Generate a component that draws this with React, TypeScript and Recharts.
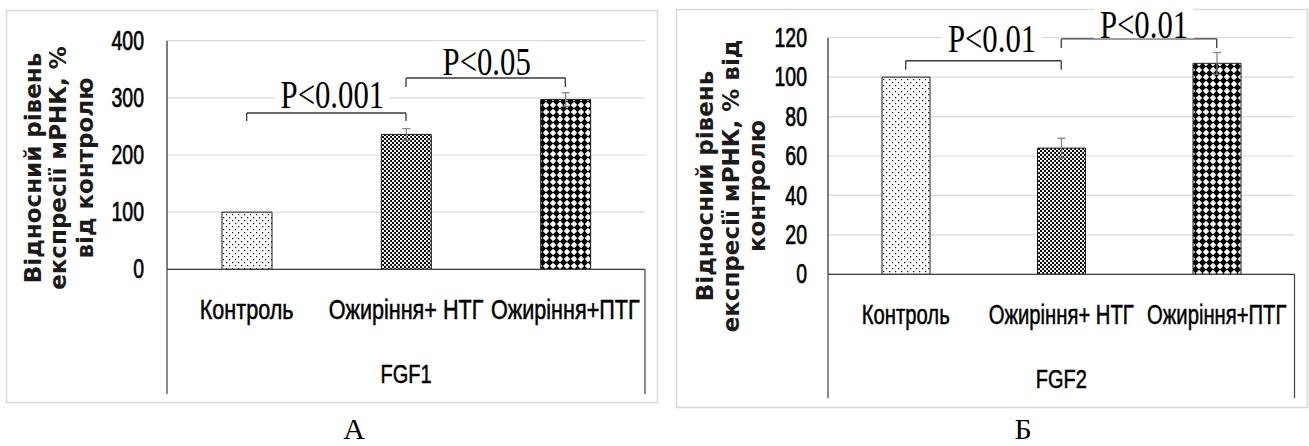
import React from 'react';
import {
  BarChart,
  Bar,
  XAxis,
  YAxis,
  CartesianGrid,
  Cell,
  ErrorBar,
  ReferenceLine,
  ReferenceArea,
} from 'recharts';

// ---------------- data ----------------
const categories = ['Контроль', 'Ожиріння+ НТГ', 'Ожиріння+ПТГ'];

const fgf1Values = [100, 236, 297];
const fgf1Errors = [0, 10, 12];
const fgf1Ticks = [0, 100, 200, 300, 400];
const fgf1Group = 'FGF1';
const fgf1Title = ['Відносний рівень', 'експресії мРНК, %', 'від контролю'];
const fgf1Brackets = [
  { from: 0, to: 1, level: 273.5, drop: 259.5, text: 'P<0.001' },
  { from: 1, to: 2, level: 334.7, drop: 319, text: 'P<0.05' },
];

const fgf2Values = [100, 64, 107];
const fgf2Errors = [0, 5, 5.5];
const fgf2Ticks = [0, 20, 40, 60, 80, 100, 120];
const fgf2Group = 'FGF2';
const fgf2Title = ['Відносний рівень', 'експресії мРНК, % від', 'контролю'];
const fgf2Brackets = [
  { from: 0, to: 1, level: 108.3, drop: 103.7, text: 'P<0.01' },
  { from: 1, to: 2, level: 119.4, drop: 114.8, text: 'P<0.01' },
];

const panelCaptions = ['А', 'Б'];

// ---------------- styles ----------------
const PATTERN_NAMES = ['dots', 'dense', 'diamond'];
const SANS = "'Liberation Sans', Arial, sans-serif";
const SERIF = "'Liberation Serif', 'Times New Roman', serif";
const TITLE_FONT = "'DejaVu Sans', Verdana, sans-serif";

type Bracket = { from: number; to: number; level: number; drop: number; text: string };

interface PanelProps {
  id: string;
  width: number;
  height: number;
  margin: { top: number; right: number; bottom: number; left: number };
  yAxisWidth: number;
  barSize: number;
  values: number[];
  errors: number[];
  ticks: number[];
  group: string;
  title: string[];
  titleXs: number[];
  titleCenterY: number;
  brackets: Bracket[];
  labelOffsets: { dx: number; gap: number }[];
  frameBottom: number;
  tickGap: number;
  catScale: number;
}

const makeValueTick = (gap: number) => (props: any) => {
  const { x, y, payload } = props;
  return (
    <text
      transform={`translate(${x - gap} ${y}) scale(0.72 1)`}
      textAnchor="end"
      dominantBaseline="central"
      fontFamily={SANS}
      fontSize={27}
      fill="#000"
      stroke="#000"
      strokeWidth={0.7}
    >
      {payload.value}
    </text>
  );
};

const makeCatTick = (sx: number) => (props: any) => {
  const { x, y, payload } = props;
  return (
    <text
      transform={`translate(${x} ${y + 41.5}) scale(${sx} 1)`}
      textAnchor="middle"
      fontFamily={SANS}
      fontSize={27}
      fill="#000"
      stroke="#000"
      strokeWidth={0.5}
    >
      {payload.value}
    </text>
  );
};

const makeGroupLabel = (text: string) => (props: any) => {
  const vb = props.viewBox || {};
  const cx = vb.x + vb.width / 2;
  return (
    <text
      transform={`translate(${cx} ${vb.y + 113.7}) scale(0.8 1)`}
      textAnchor="middle"
      fontFamily={SANS}
      fontSize={25}
      fill="#000"
      stroke="#000"
      strokeWidth={0.5}
    >
      {text}
    </text>
  );
};

const makeYTitle = (lines: string[], xs: number[], cy: number) => (props: any) => {
  const vb = props.viewBox || { x: 0 };
  return (
    <g>
      {lines.map((l, i) => (
        <text
          key={i}
          transform={`translate(${vb.x + xs[i]} ${cy}) rotate(-90)`}
          textAnchor="middle"
          dominantBaseline="central"
          fontFamily={TITLE_FONT}
          fontWeight="bold"
          fontSize={23}
          fill="#1a1a1a"
        >
          {l}
        </text>
      ))}
    </g>
  );
};

const makeBracketLabel = (text: string, dx: number, gap: number) => (props: any) => {
  const vb = props.viewBox || {};
  const cx = vb.x + vb.width / 2 + dx;
  const base = vb.y - gap;
  const w = text.length * 15;
  return (
    <g>
      <rect x={cx - w / 2 - 5} y={base - 34} width={w + 10} height={34} fill="#fff" />
      <text
        transform={`translate(${cx} ${base}) scale(0.75 1)`}
        textAnchor="middle"
        fontFamily={SERIF}
        fontSize={41}
        fill="#000"
      >
        {text}
      </text>
    </g>
  );
};

const frameShape = (props: any) => {
  const { x, y, width, height } = props;
  return (
    <path
      d={`M${x},${y} V${y + height} M${x + width},${y} V${y + height}`}
      stroke="#404040"
      strokeWidth={1.2}
      fill="none"
    />
  );
};

function Panel(p: PanelProps) {
  const data = categories.map((name, i) => ({ name, value: p.values[i], err: p.errors[i] }));
  const domainMax = p.ticks[p.ticks.length - 1];
  const bracketStroke = '#3a3a3a';
  return (
    <BarChart width={p.width} height={p.height} data={data} margin={p.margin}>
      <defs>
        <pattern id={`${p.id}-dots`} width="6" height="6" patternUnits="userSpaceOnUse">
          <rect width="6" height="6" fill="#fff" />
          <rect x="1" y="1" width="1.2" height="1.2" fill="#000" />
          <rect x="4" y="4" width="1.2" height="1.2" fill="#000" />
        </pattern>
        <pattern id={`${p.id}-dense`} width="4" height="4" patternUnits="userSpaceOnUse">
          <rect width="4" height="4" fill="#000" />
          <rect x="0" y="0" width="2.2" height="1.9" fill="#fff" />
          <rect x="2" y="2" width="2.2" height="1.9" fill="#fff" />
        </pattern>
        <pattern id={`${p.id}-diamond`} width="7" height="7" patternUnits="userSpaceOnUse">
          <rect width="7" height="7" fill="#fff" />
          <polygon points="3.5,-0.3 7.3,3.5 3.5,7.3 -0.3,3.5" fill="#000" />
        </pattern>
      </defs>
      <CartesianGrid vertical={false} stroke="#d9d9d9" strokeWidth={1.2} />
      <XAxis
        dataKey="name"
        interval={0}
        tickLine={false}
        axisLine={{ stroke: '#404040', strokeWidth: 1.2 }}
        height={30}
        tick={makeCatTick(p.catScale)}
        label={makeGroupLabel(p.group)}
      />
      <YAxis
        type="number"
        domain={[0, domainMax]}
        ticks={p.ticks}
        width={p.yAxisWidth}
        tickLine={false}
        axisLine={{ stroke: '#262626', strokeWidth: 1.2 }}
        tick={makeValueTick(p.tickGap)}
        label={makeYTitle(p.title, p.titleXs, p.titleCenterY)}
      />
      <ReferenceArea
        x1={categories[0]}
        x2={categories[categories.length - 1]}
        y1={p.frameBottom}
        y2={0}
        ifOverflow="visible"
        shape={frameShape}
      />
      <Bar dataKey="value" isAnimationActive={false} barSize={p.barSize} stroke="#1a1a1a" strokeWidth={1}>
        {data.map((d, i) => (
          <Cell key={d.name} fill={`url(#${p.id}-${PATTERN_NAMES[i]})`} />
        ))}
        <ErrorBar dataKey="err" width={4} stroke="#7f7f7f" strokeWidth={1.2} direction="y" isAnimationActive={false} />
      </Bar>
      {p.brackets.map((b, i) => (
        <ReferenceLine
          key={`h${i}`}
          segment={[
            { x: categories[b.from], y: b.level },
            { x: categories[b.to], y: b.level },
          ]}
          stroke={bracketStroke}
          strokeWidth={1.3}
          ifOverflow="visible"
          label={makeBracketLabel(b.text, p.labelOffsets[i].dx, p.labelOffsets[i].gap)}
        />
      ))}
      {p.brackets.map((b, i) => (
        <ReferenceLine
          key={`l${i}`}
          segment={[
            { x: categories[b.from], y: b.level },
            { x: categories[b.from], y: b.drop },
          ]}
          stroke={bracketStroke}
          strokeWidth={1.3}
          ifOverflow="visible"
        />
      ))}
      {p.brackets.map((b, i) => (
        <ReferenceLine
          key={`r${i}`}
          segment={[
            { x: categories[b.to], y: b.level },
            { x: categories[b.to], y: b.drop },
          ]}
          stroke={bracketStroke}
          strokeWidth={1.3}
          ifOverflow="visible"
        />
      ))}
    </BarChart>
  );
}

export default function App() {
  return (
    <div
      style={{
        position: 'absolute',
        left: 0,
        top: 0,
        width: 1309,
        height: 446,
        background: '#fff',
        overflow: 'hidden',
      }}
    >
      <svg width={1309} height={446} style={{ position: 'absolute', left: 0, top: 0 }}>
        <rect x={6.5} y={10.5} width={651} height={392} fill="none" stroke="#d9d9d9" strokeWidth={1.5} />
        <rect x={676.5} y={9.5} width={631} height={398} fill="none" stroke="#d9d9d9" strokeWidth={1.5} />
        <text x={354} y={439} textAnchor="middle" fontFamily={SERIF} fontSize={30} fill="#000">
          {panelCaptions[0]}
        </text>
        <text x={1023} y={439} textAnchor="middle" fontFamily={SERIF} fontSize={30} fill="#000">
          {panelCaptions[1]}
        </text>
      </svg>
      <div style={{ position: 'absolute', left: 0, top: 0 }}>
        <Panel
          id="fgf1"
          width={660}
          height={446}
          margin={{ top: 40.7, right: 15, bottom: 146.7, left: 0 }}
          yAxisWidth={167}
          barSize={50}
          values={fgf1Values}
          errors={fgf1Errors}
          ticks={fgf1Ticks}
          group={fgf1Group}
          title={fgf1Title}
          titleXs={[33, 58, 85]}
          titleCenterY={168}
          brackets={fgf1Brackets}
          labelOffsets={[
            { dx: 6, gap: 5 },
            { dx: 1, gap: 3 },
          ]}
          frameBottom={-218}
          tickGap={15}
          catScale={0.8}
        />
      </div>
      <div style={{ position: 'absolute', left: 660, top: 0 }}>
        <Panel
          id="fgf2"
          width={649}
          height={446}
          margin={{ top: 37.7, right: 14.5, bottom: 141.7, left: 0 }}
          yAxisWidth={168}
          barSize={48}
          values={fgf2Values}
          errors={fgf2Errors}
          ticks={fgf2Ticks}
          group={fgf2Group}
          title={fgf2Title}
          titleXs={[45, 71, 97]}
          titleCenterY={186}
          brackets={fgf2Brackets}
          labelOffsets={[
            { dx: 8.5, gap: 9 },
            { dx: 5, gap: 0.5 },
          ]}
          frameBottom={-62.8}
          tickGap={13}
          catScale={0.75}
        />
      </div>
    </div>
  );
}
